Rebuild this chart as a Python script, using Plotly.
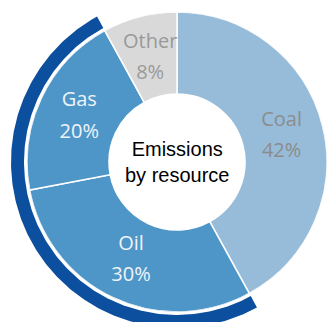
import numpy as np
import plotly.graph_objects as go

# ---- data ----
categories = ["Coal", "Oil", "Gas", "Other"]
shares = [42, 30, 20, 8]
highlight = ["Oil", "Gas"]
center_title = "Emissions<br>by resource"

# ---- styles ----
slice_colors = ["#97BCDA", "#4F96C8", "#4F96C8", "#D9D9D9"]
label_colors = ["#8C8C8C", "#EEF4FA", "#EEF4FA", "#999999"]
arc_color = "#0B4F9E"

W, H = 327, 322
CX, CY = 177, 162             # pie centre in pixels
R_HOLE, R_OUT = 68, 150       # donut radii (radial-axis units = px)
R_ARC0, R_ARC1 = 153, 166     # highlight arc radii
R_LABEL = 108

total = sum(shares)
deg = np.array([s / total * 360 for s in shares])
starts = np.concatenate([[0], np.cumsum(deg)[:-1]])
mids = starts + deg / 2

idx = [categories.index(c) for c in highlight]
arc_start = starts[min(idx)]
arc_end = starts[max(idx)] + deg[max(idx)]

fig = go.Figure()

# donut slices (polar bars)
fig.add_trace(go.Barpolar(
    theta=mids, width=deg,
    r=[R_OUT - R_HOLE] * len(shares), base=[R_HOLE] * len(shares),
    marker=dict(color=slice_colors, line=dict(color="white", width=1.5)),
    hoverinfo="skip",
))
# slice labels
fig.add_trace(go.Scatterpolar(
    theta=mids, r=[R_LABEL] * len(shares), mode="text",
    text=[f"<span style='font-size:20px'>{c}</span><br>"
          f"<span style='font-size:20px'>{s}%</span>" for c, s in zip(categories, shares)],
    textposition="middle center",
    textfont=dict(family="Open Sans", size=24, color=label_colors),
    cliponaxis=False, hoverinfo="skip",
))

# highlight arc around the selected slices (pixel-unit cartesian axes)
t = np.radians(np.linspace(arc_start, arc_end, 240))
ring_r = np.concatenate([np.full(t.size, R_ARC1), np.full(t.size, R_ARC0)])
ring_t = np.concatenate([t, t[::-1]])
fig.add_trace(go.Scatter(
    x=CX + ring_r * np.sin(ring_t), y=CY - ring_r * np.cos(ring_t),
    mode="lines", fill="toself", fillcolor=arc_color,
    line=dict(width=0, color=arc_color), hoverinfo="skip",
))

x0 = (CX - R_OUT) / W
x1 = min(1.0, (CX + R_OUT) / W)
y_mid = 1 - CY / H
fig.update_layout(
    width=W, height=H, margin=dict(l=0, r=0, t=0, b=0),
    paper_bgcolor="white", plot_bgcolor="rgba(0,0,0,0)", showlegend=False,
    xaxis=dict(range=[0, W], domain=[0, 1], visible=False, fixedrange=True),
    yaxis=dict(range=[H, 0], domain=[0, 1], visible=False, fixedrange=True),
    polar=dict(
        domain=dict(x=[x0, x1], y=[y_mid - R_OUT / H, y_mid + R_OUT / H]),
        bgcolor="rgba(0,0,0,0)", hole=0, barmode="overlay",
        radialaxis=dict(range=[0, R_OUT], visible=False, showgrid=False),
        angularaxis=dict(direction="clockwise", rotation=90, visible=False, showgrid=False),
    ),
    annotations=[dict(
        text=center_title, x=CX / W, y=y_mid, xref="paper", yref="paper",
        showarrow=False, xanchor="center", yanchor="middle",
        font=dict(family="Liberation Sans, Arial", size=20, color="black"),
    )],
)
fig.write_html("out.html", config={"displayModeBar": False})
